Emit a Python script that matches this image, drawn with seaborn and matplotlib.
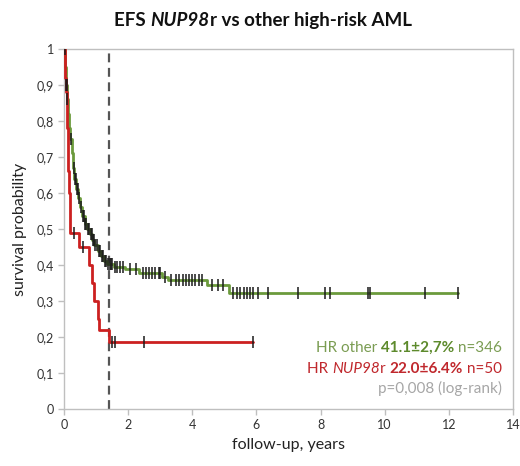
import numpy as np
import pandas as pd
import matplotlib
matplotlib.use("Agg")
import matplotlib.pyplot as plt
from matplotlib.transforms import IdentityTransform
import seaborn as sns

# ---------------- data ----------------
other_t = [0.00, 0.03, 0.06, 0.09, 0.12, 0.16, 0.20, 0.24, 0.28, 0.32, 0.38, 0.44,
           0.50, 0.57, 0.64, 0.72, 0.80, 0.88, 0.95, 1.05, 1.15, 1.25, 1.35, 1.55,
           1.90, 2.35, 3.05, 3.25, 4.45, 5.15, 12.30]
other_s = [1.000, 0.950, 0.900, 0.860, 0.820, 0.780, 0.750, 0.710, 0.670, 0.640, 0.610, 0.585,
           0.560, 0.535, 0.515, 0.500, 0.485, 0.470, 0.455, 0.440, 0.425, 0.412, 0.403, 0.395,
           0.388, 0.378, 0.368, 0.358, 0.344, 0.323, 0.323]
other_cens = [0.02, 0.07, 0.08, 0.10, 0.22, 0.30, 0.33, 0.36, 0.40, 0.43, 0.47, 0.52, 0.58,
              0.62, 0.66, 0.70, 0.75, 0.78, 0.83, 0.86, 0.90, 0.93, 0.98, 1.02, 1.08, 1.12,
              1.18, 1.22, 1.28, 1.32, 1.38, 1.42, 1.46, 1.50, 1.60, 1.65, 1.75, 1.85, 2.05,
              2.25, 2.45, 2.55, 2.65, 2.75, 2.85, 2.95, 3.00, 3.15, 3.35, 3.50, 3.60, 3.70,
              3.80, 3.90, 4.00, 4.10, 4.20, 4.30, 4.60, 4.80, 4.95, 5.28, 5.40, 5.50, 5.60,
              5.72, 5.80, 5.90, 6.06, 6.37, 7.30, 8.15, 8.30, 9.47, 9.53, 11.25, 12.28]

nup_t = [0.00, 0.02, 0.04, 0.06, 0.08, 0.10, 0.12, 0.14, 0.16, 0.18, 0.20, 0.48,
         0.78, 0.88, 0.95, 1.05, 1.10, 1.40, 5.90]
nup_s = [1.000, 0.960, 0.920, 0.880, 0.840, 0.780, 0.720, 0.660, 0.600, 0.540, 0.490, 0.450,
         0.400, 0.350, 0.300, 0.250, 0.220, 0.185, 0.185]
nup_cens = [0.30, 0.60, 1.49, 1.60, 2.48, 5.90]

landmark = 1.4
x_ticks = [0, 2, 4, 6, 8, 10, 12, 14]
y_ticks = [0, 0.1, 0.2, 0.3, 0.4, 0.5, 0.6, 0.7, 0.8, 0.9, 1.0]
y_tick_labels = ["0", "0,1", "0,2", "0,3", "0,4", "0,5", "0,6", "0,7", "0,8", "0,9", "1"]

# ---------------- style ----------------
sns.set_theme(style="white")
plt.rcParams["font.family"] = ["Lato", "DejaVu Sans"]

GREEN = "#6b9a3c"
GREEN_TXT = "#7a9c52"
GREEN_BOLD = "#5d8a2c"
RED = "#cc2020"
RED_TXT = "#c0282d"
GRAY_TXT = "#a6a6a6"
AX_GRAY = "#bfbfbf"

W, H = 520, 466
fig = plt.figure(figsize=(W / 100, H / 100), dpi=100)
ax = fig.add_axes([64 / W, 1 - 409 / H, (513 - 64) / W, (409 - 49) / H])


def step_value(ts, ss, x):
    i = np.searchsorted(ts, x, side="right") - 1
    return ss[max(i, 0)]


df_other = pd.DataFrame({"t": other_t, "s": other_s})
df_nup = pd.DataFrame({"t": nup_t, "s": nup_s})

sns.lineplot(data=df_other, x="t", y="s", ax=ax, color=GREEN, lw=2.0,
             drawstyle="steps-post", estimator=None, sort=False, zorder=3)
sns.lineplot(data=df_nup, x="t", y="s", ax=ax, color=RED, lw=2.0,
             drawstyle="steps-post", estimator=None, sort=False, zorder=3)

cens = pd.DataFrame({
    "t": other_cens + nup_cens,
    "s": [step_value(other_t, other_s, c) for c in other_cens]
         + [step_value(nup_t, nup_s, c) for c in nup_cens],
})
sns.scatterplot(data=cens, x="t", y="s", ax=ax, marker="|", s=75, color="#1a1a1a",
                linewidth=1.1, zorder=4)

ax.axvline(landmark, ymin=0, ymax=1, color="#555555", lw=1.6, ls=(0, (4, 2.5)), zorder=2)

ax.set_xlim(0, 14)
ax.set_ylim(0, 1)
ax.set_xticks(x_ticks)
ax.set_xticklabels([str(v) for v in x_ticks])
ax.set_yticks(y_ticks)
ax.set_yticklabels(y_tick_labels)
ax.tick_params(axis="both", which="major", direction="out", length=4, width=1,
               color=AX_GRAY, labelsize=9, labelcolor="#333333", pad=3)
ax.tick_params(axis="x", bottom=True)
ax.tick_params(axis="y", left=True)
for sp in ax.spines.values():
    sp.set_visible(True)
    sp.set_color(AX_GRAY)
    sp.set_linewidth(1.0)

ax.set_xlabel("follow-up, years", fontsize=11.5, color="#222222", labelpad=5)
ax.set_ylabel("survival probability", fontsize=11.5, color="#222222", labelpad=7)

# ---------------- rich text helper ----------------
renderer = fig.canvas.get_renderer()


def rich_text(pieces, x, y_base, align="right", size=11):
    """pieces: list of (text, color, weight, style). y_base: baseline in image pixels."""
    texts = []
    widths = []
    for s, c, w, st in pieces:
        t = fig.text(0, 0, s, color=c, fontweight=w, fontstyle=st, fontsize=size,
                     transform=IdentityTransform(), va="baseline", ha="left")
        bb = t.get_window_extent(renderer=renderer)
        texts.append(t)
        widths.append(bb.width)
    total = sum(widths)
    if align == "right":
        x0 = x - total
    elif align == "center":
        x0 = x - total / 2
    else:
        x0 = x
    yb = H - y_base
    for t, wdt in zip(texts, widths):
        t.set_position((x0, yb))
        x0 += wdt


rich_text([("EFS ", "#111111", "bold", "normal"),
           ("NUP98", "#111111", "bold", "italic"),
           ("r vs other high-risk AML", "#111111", "bold", "normal")],
          263, 26, align="center", size=13.5)

rich_text([("HR other ", GREEN_TXT, "normal", "normal"),
           ("41.1\u00b12,7%", GREEN_BOLD, "bold", "normal"),
           (" n=346", GREEN_TXT, "normal", "normal")],
          502, 352)
rich_text([("HR ", RED_TXT, "normal", "normal"),
           ("NUP98", RED_TXT, "normal", "italic"),
           ("r ", RED_TXT, "normal", "normal"),
           ("22.0\u00b16.4%", RED_TXT, "bold", "normal"),
           (" n=50", RED_TXT, "normal", "normal")],
          502, 373)
rich_text([("p=0,008 (log-rank)", GRAY_TXT, "normal", "normal")], 502, 393)

fig.savefig("out.png", dpi=100)
